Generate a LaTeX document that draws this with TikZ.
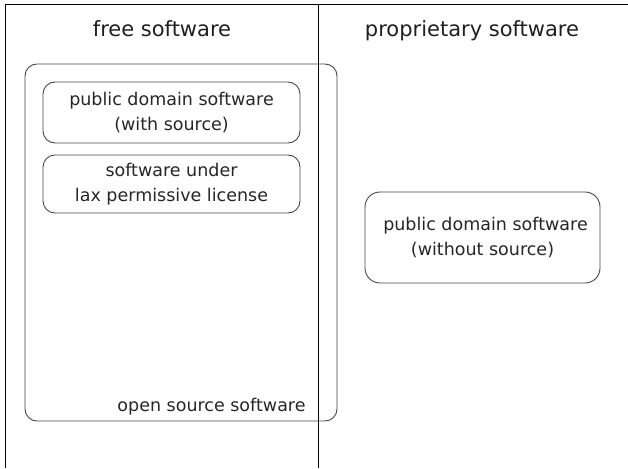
\documentclass[tikz,border=0pt]{standalone}
\usepackage{fontspec}
\setmainfont{DejaVu Sans}
\begin{document}
\begin{tikzpicture}[x=1pt,y=-1pt,
  frame/.style={line width=1pt,draw=black},
  head/.style={font=\fontsize{21}{25}\selectfont,anchor=base,text=black!88},
  box/.style={draw=black!72,line width=0.9pt,rounded corners=12pt,align=center,
    font=\fontsize{17.5}{25}\selectfont,inner sep=0pt,text=black!85},
  lbl/.style={font=\fontsize{17.5}{25}\selectfont,anchor=base,text=black!85}]
\useasboundingbox (0,0) rectangle (628,468);
% frame
\coordinate (tl) at (5,5);
\coordinate (tr) at (628,5);
\coordinate (bl) at (5,468);
\coordinate (tm) at (318,5);
\coordinate (bm) at (318,468);
\draw[frame] (bl) -- (tl) -- (tr);
\draw[frame] (tm) -- (bm);
% headings
\node[head] (free) at (162,36.5) {free software};
\node[head] (prop) at (472,36.5) {proprietary software};
% open source box
\node[box,minimum width=312pt,minimum height=357pt] (oss) at (181,242.5) {};
\node[lbl] (osslbl) at (211.5,411) {open source software};
% inner boxes
\node[box,minimum width=257pt,minimum height=61pt] (pdws) at (171.5,112.5)
  {\raisebox{-2pt}{public domain software}\\\raisebox{-2pt}{(with source)}};
\node[box,minimum width=257pt,minimum height=58pt] (lax) at (171.5,184)
  {\raisebox{-1pt}{software under}\\\raisebox{-1pt}{lax permissive license}};
% right box
\node[box,rounded corners=15pt,minimum width=235pt,minimum height=91pt] (pdwo) at (482.5,237.5)
  {\hspace*{6pt}public domain software\\(without source)};
\end{tikzpicture}
\end{document}
